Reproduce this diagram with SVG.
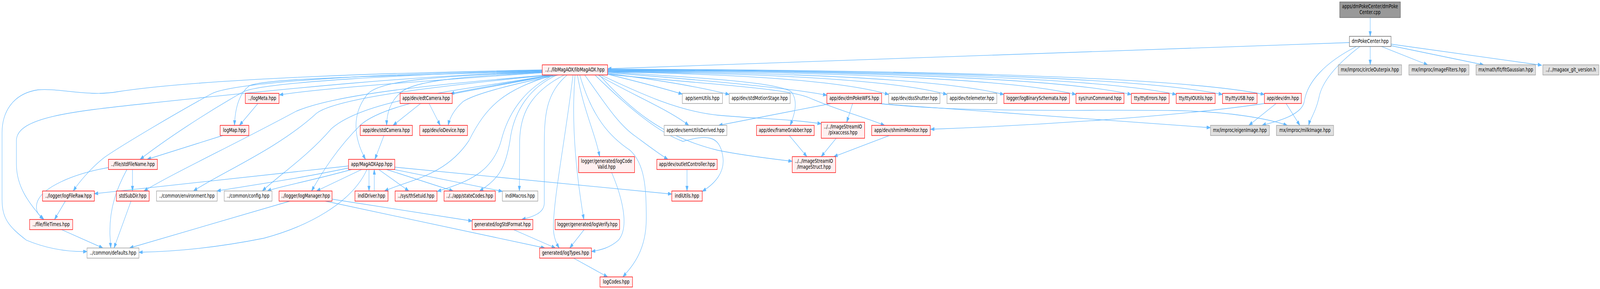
<svg xmlns="http://www.w3.org/2000/svg" width="5459" height="740" viewBox="0 0 5459 740" preserveAspectRatio="none">
<style>
svg:root{width:100vw;height:100vh}
.r rect{fill:#fff0f0;stroke:#ff0000;stroke-width:1.4}
.g rect{fill:#ffffff;stroke:#999999;stroke-width:1.4}
.w rect{fill:#ffffff;stroke:#666666;stroke-width:1.4}
.x rect{fill:#e0e0e0;stroke:#999999;stroke-width:1.4}
.s rect{fill:#999999;stroke:#666666;stroke-width:1.4}
text{font-family:"DejaVu Sans","Liberation Sans",sans-serif;font-size:13.33px;text-anchor:middle;fill:#000000}
#edges path{fill:none;stroke:#63b8ff;stroke-width:1.3;marker-end:url(#a)}
</style>
<defs>
<marker id="a" markerUnits="userSpaceOnUse" markerWidth="14" markerHeight="10" refX="13" refY="4.5" orient="auto">
<path d="M0,0 L13,4.5 L0,9 z" fill="#63b8ff" stroke="#63b8ff" stroke-width="1"/>
</marker>
</defs>
<rect width="5459" height="740" fill="#ffffff"/>
<g id="edges">
<path d="M4675,45 L4675,93"/>
<path d="M4604,109 L2073,176"/>
<path d="M4675,119 L4675,166"/>
<path d="M4713,119 L4871,166"/>
<path d="M4746,117 L5062,166"/>
<path d="M4746,113 L5260,167"/>
<path d="M4628,119 C4520,160 4460,210 4450,260 C4440,300 4330,315 4306,321"/>
<path d="M4640,119 C4560,165 4510,210 4500,250 C4490,285 4470,305 4465,321"/>
<path d="M1850,186 C1500,205 1100,225 953,243"/>
<path d="M1880,192 C1750,212 1620,225 1537,240"/>
<path d="M2073,190 C2180,210 2260,225 2328,241"/>
<path d="M2073,188 C2250,205 2400,225 2488,242"/>
<path d="M2073,186 C2400,205 2700,225 2821,244"/>
<path d="M2073,184 C2550,190 2880,208 3032,242"/>
<path d="M2073,183 C2650,188 3060,206 3231,242"/>
<path d="M2073,182 C2750,186 3230,205 3425,242"/>
<path d="M2073,181 C2870,184 3460,203 3671,242"/>
<path d="M2073,180 C2970,182 3630,202 3860,242"/>
<path d="M2073,179 C3040,181 3770,201 4013,242"/>
<path d="M2073,178 C3120,180 3910,200 4171,242"/>
<path d="M2073,177 C3190,179 4040,199 4314,242"/>
<path d="M1850,182 C1300,195 900,200 850,220 C815,240 802,280 800,321"/>
<path d="M1850,181 C1400,190 900,210 830,235 C700,290 560,360 478,408"/>
<path d="M1850,180 C1300,188 800,210 722,240 C600,290 420,370 358,402 C310,430 268,468 250,489"/>
<path d="M1850,183 C1400,195 1000,225 500,265 C250,285 56,300 56,360 L56,420 C56,480 100,520 147,562"/>
<path d="M1850,179 C1400,185 700,200 400,235 C300,248 200,225 130,230 C40,240 7,290 7,340 L7,510 C7,560 30,580 90,615 C170,640 240,645 297,644"/>
<path d="M1870,192 C1500,215 1150,240 1010,285 C800,370 600,440 491,489"/>
<path d="M1875,192 C1500,220 1150,250 1080,290 C950,380 760,440 660,489"/>
<path d="M1880,192 C1600,230 1250,250 1130,330 C1050,400 950,450 895,489"/>
<path d="M1890,192 C1600,235 1320,260 1230,320 C1150,380 1100,440 1063,489"/>
<path d="M1850,185 C1600,195 1420,205 1370,235 C1330,260 1320,290 1319,321"/>
<path d="M1905,192 C1750,215 1620,240 1580,260 C1550,280 1535,300 1529,321"/>
<path d="M1850,184 C1500,195 1300,205 1255,240 C1200,290 1205,350 1247,408"/>
<path d="M2040,192 C2150,240 2280,280 2350,321"/>
<path d="M2073,184 C2400,200 2650,210 2700,235 C2725,260 2710,295 2696,321"/>
<path d="M2050,192 C2200,245 2320,285 2450,295 C2600,305 2700,305 2802,317"/>
<path d="M2070,190 C2400,215 2680,225 2760,250 C2850,280 2950,300 3018,321"/>
<path d="M2045,192 C2150,280 2260,350 2450,385 C2550,400 2650,408 2703,413"/>
<path d="M1995,192 C2060,260 2110,320 2170,350 C2215,375 2250,395 2279,408"/>
<path d="M2030,192 C2150,280 2250,340 2330,362 C2410,345 2455,345 2466,400 C2475,440 2440,470 2396,490"/>
<path d="M1970,192 C1990,280 2030,340 2046,401"/>
<path d="M1978,192 C2020,300 2080,350 2150,385 C2200,420 2205,480 2205,560 C2205,640 2160,680 2125,709"/>
<path d="M1955,192 C1930,350 1890,500 1888,580 C1888,610 1900,625 1908,635"/>
<path d="M1962,192 C1950,300 1960,420 1992,562"/>
<path d="M1935,192 C1860,240 1857,300 1857,380 L1857,520 C1857,545 1820,555 1780,562"/>
<path d="M1925,192 C1800,240 1775,300 1773,360 L1772,489"/>
<path d="M1900,192 C1790,230 1750,300 1740,360 C1725,430 1700,460 1636,489"/>
<path d="M1890,192 C1780,230 1730,300 1710,360 C1680,440 1600,465 1492,490"/>
<path d="M1886,192 C1720,230 1660,270 1600,360 C1520,450 1400,460 1312,489"/>
<path d="M880,265 L817,321"/>
<path d="M760,347 L502,408"/>
<path d="M1435,265 L1341,321"/>
<path d="M1464,265 L1502,321"/>
<path d="M1310,347 L1279,408"/>
<path d="M370,429 C250,445 140,480 126,520 C118,545 140,555 150,562"/>
<path d="M452,434 L452,489"/>
<path d="M433,434 C400,480 373,530 375,600 L378,635"/>
<path d="M1189,425 L322,496"/>
<path d="M1190,430 C1000,460 850,475 740,489"/>
<path d="M1200,434 C1050,465 950,478 912,489"/>
<path d="M1234,434 L1080,489"/>
<path d="M1259,434 L1259,489"/>
<path d="M1277,489 L1277,434"/>
<path d="M1292,434 L1395,489"/>
<path d="M1319,434 L1546,489"/>
<path d="M1345,434 L1714,490"/>
<path d="M1347,428 L2292,497"/>
<path d="M1252,434 C1200,520 1050,580 900,610 C700,640 550,645 474,646"/>
<path d="M223,515 L186,562"/>
<path d="M210,588 L351,635"/>
<path d="M447,515 L389,635"/>
<path d="M989,515 L442,635"/>
<path d="M1133,510 L1611,566"/>
<path d="M1110,515 L1859,635"/>
<path d="M1752,588 L1895,635"/>
<path d="M1993,588 L1944,635"/>
<path d="M2087,442 C2120,500 2150,580 2110,615 C2080,635 2050,640 2018,644"/>
<path d="M1957,661 L2073,709"/>
<path d="M2344,434 L2344,489"/>
<path d="M2693,347 L2753,401"/>
<path d="M2853,354 L2802,401"/>
<path d="M3034,347 L2845,401"/>
<path d="M2909,265 L2889,313"/>
<path d="M2836,265 L2452,321"/>
<path d="M3008,266 C3500,290 3900,315 4130,327"/>
<path d="M3000,265 C3300,290 3700,280 4000,283 C4200,285 4330,305 4392,321"/>
<path d="M4354,265 L4261,321"/>
<path d="M4388,265 L4435,321"/>
<path d="M4314,265 C4000,300 3500,322 3175,331"/>
</g>
<g id="n_cpp" class="s"><rect x="4571" y="5" width="207" height="40"/><text x="4674.5" y="21">apps/dmPokeCenter/dmPoke</text><text x="4674.5" y="36">Center.cpp</text></g>
<g id="n_hpp" class="w"><rect x="4604" y="93" width="142" height="26"/><text x="4675" y="110.5">dmPokeCenter.hpp</text></g>
<g id="n_lib" class="r"><rect x="1850" y="166" width="223" height="26"/><text x="1961.5" y="183.5">../../libMagAOX/libMagAOX.hpp</text></g>
<g id="n_circle" class="x"><rect x="4566" y="166" width="216" height="26"/><text x="4674" y="183.5">mx/improc/circleOuterpix.hpp</text></g>
<g id="n_filters" class="x"><rect x="4807" y="166" width="205" height="26"/><text x="4909.5" y="183.5">mx/improc/imageFilters.hpp</text></g>
<g id="n_fitg" class="x"><rect x="5036" y="166" width="203" height="26"/><text x="5137.5" y="183.5">mx/math/fit/fitGaussian.hpp</text></g>
<g id="n_git" class="x"><rect x="5264" y="166" width="191" height="26"/><text x="5359.5" y="183.5">../../magaox_git_version.h</text></g>
<g id="n_logMeta" class="r"><rect x="837" y="239" width="115" height="26"/><text x="894.5" y="256.5">../logMeta.hpp</text></g>
<g id="n_edtCamera" class="r"><rect x="1365" y="239" width="178" height="26"/><text x="1454" y="256.5">app/dev/edtCamera.hpp</text></g>
<g id="n_semUtils" class="g"><rect x="2328" y="239" width="137" height="26"/><text x="2396.5" y="256.5">app/semUtils.hpp</text></g>
<g id="n_stdMotionStage" class="g"><rect x="2488" y="239" width="208" height="26"/><text x="2592" y="256.5">app/dev/stdMotionStage.hpp</text></g>
<g id="n_dmPokeWFS" class="r"><rect x="2821" y="239" width="187" height="26"/><text x="2914.5" y="256.5">app/dev/dmPokeWFS.hpp</text></g>
<g id="n_dssShutter" class="g"><rect x="3032" y="239" width="175" height="26"/><text x="3119.5" y="256.5">app/dev/dssShutter.hpp</text></g>
<g id="n_telemeter" class="g"><rect x="3231" y="239" width="170" height="26"/><text x="3316" y="256.5">app/dev/telemeter.hpp</text></g>
<g id="n_logBinarySchemata" class="r"><rect x="3425" y="239" width="224" height="26"/><text x="3537" y="256.5">logger/logBinarySchemata.hpp</text></g>
<g id="n_runCommand" class="r"><rect x="3671" y="239" width="164" height="26"/><text x="3753" y="256.5">sys/runCommand.hpp</text></g>
<g id="n_ttyErrors" class="r"><rect x="3860" y="239" width="129" height="26"/><text x="3924.5" y="256.5">tty/ttyErrors.hpp</text></g>
<g id="n_ttyIOUtils" class="r"><rect x="4013" y="239" width="133" height="26"/><text x="4079.5" y="256.5">tty/ttyIOUtils.hpp</text></g>
<g id="n_ttyUSB" class="r"><rect x="4171" y="239" width="118" height="26"/><text x="4230" y="256.5">tty/ttyUSB.hpp</text></g>
<g id="n_dm" class="r"><rect x="4314" y="239" width="126" height="26"/><text x="4377" y="256.5">app/dev/dm.hpp</text></g>
<g id="n_logMap" class="r"><rect x="751" y="321" width="98" height="26"/><text x="800" y="338.5">logMap.hpp</text></g>
<g id="n_stdCamera" class="r"><rect x="1229" y="321" width="178" height="26"/><text x="1318" y="338.5">app/dev/stdCamera.hpp</text></g>
<g id="n_ioDevice" class="r"><rect x="1432" y="321" width="163" height="26"/><text x="1513.5" y="338.5">app/dev/ioDevice.hpp</text></g>
<g id="n_semUtilsDerived" class="g"><rect x="2266" y="321" width="214" height="26"/><text x="2373" y="338.5">app/dev/semUtilsDerived.hpp</text></g>
<g id="n_frameGrabber" class="r"><rect x="2581" y="321" width="197" height="26"/><text x="2679.5" y="338.5">app/dev/frameGrabber.hpp</text></g>
<g id="n_pixaccess" class="r"><rect x="2802" y="313" width="148" height="41"/><text x="2876" y="329">../../ImageStreamIO</text><text x="2876" y="344">/pixaccess.hpp</text></g>
<g id="n_shmimMonitor" class="r"><rect x="2974" y="321" width="200" height="26"/><text x="3074" y="338.5">app/dev/shmimMonitor.hpp</text></g>
<g id="n_eigenImage" class="x"><rect x="4130" y="321" width="201" height="26"/><text x="4230.5" y="338.5">mx/improc/eigenImage.hpp</text></g>
<g id="n_milkImage" class="x"><rect x="4355" y="321" width="195" height="26"/><text x="4452.5" y="338.5">mx/improc/milkImage.hpp</text></g>
<g id="n_stdFileName" class="r"><rect x="370" y="408" width="167" height="26"/><text x="453.5" y="425.5">../file/stdFileName.hpp</text></g>
<g id="n_MagAOXApp" class="r"><rect x="1189" y="408" width="158" height="26"/><text x="1268" y="425.5">app/MagAOXApp.hpp</text></g>
<g id="n_logCodeValid" class="r"><rect x="1974" y="401" width="191" height="41"/><text x="2069.5" y="417">logger/generated/logCode</text><text x="2069.5" y="432">Valid.hpp</text></g>
<g id="n_outletController" class="r"><rect x="2241" y="408" width="206" height="26"/><text x="2344" y="425.5">app/dev/outletController.hpp</text></g>
<g id="n_ImageStruct" class="r"><rect x="2703" y="401" width="148" height="41"/><text x="2777" y="417">../../ImageStreamIO</text><text x="2777" y="432">/ImageStruct.hpp</text></g>
<g id="n_logFileRaw" class="r"><rect x="145" y="489" width="177" height="26"/><text x="233.5" y="506.5">../logger/logFileRaw.hpp</text></g>
<g id="n_stdSubDir" class="r"><rect x="397" y="489" width="112" height="26"/><text x="453" y="506.5">stdSubDir.hpp</text></g>
<g id="n_environment" class="g"><rect x="534" y="489" width="207" height="26"/><text x="637.5" y="506.5">../common/environment.hpp</text></g>
<g id="n_config" class="g"><rect x="765" y="489" width="163" height="26"/><text x="846.5" y="506.5">../common/config.hpp</text></g>
<g id="n_logManager" class="r"><rect x="952" y="489" width="181" height="26"/><text x="1042.5" y="506.5">../logger/logManager.hpp</text></g>
<g id="n_indiDriver" class="r"><rect x="1211" y="489" width="113" height="26"/><text x="1267.5" y="506.5">indiDriver.hpp</text></g>
<g id="n_thSetuid" class="r"><rect x="1348" y="489" width="143" height="26"/><text x="1419.5" y="506.5">../sys/thSetuid.hpp</text></g>
<g id="n_stateCodes" class="r"><rect x="1515" y="489" width="175" height="26"/><text x="1602.5" y="506.5">../../app/stateCodes.hpp</text></g>
<g id="n_indiMacros" class="g"><rect x="1714" y="489" width="121" height="26"/><text x="1774.5" y="506.5">indiMacros.hpp</text></g>
<g id="n_indiUtils" class="r"><rect x="2292" y="489" width="104" height="26"/><text x="2344" y="506.5">indiUtils.hpp</text></g>
<g id="n_fileTimes" class="r"><rect x="101" y="562" width="147" height="26"/><text x="174.5" y="579.5">../file/fileTimes.hpp</text></g>
<g id="n_logStdFormat" class="r"><rect x="1611" y="562" width="207" height="26"/><text x="1714.5" y="579.5">generated/logStdFormat.hpp</text></g>
<g id="n_logVerify" class="r"><rect x="1894" y="562" width="220" height="26"/><text x="2004" y="579.5">logger/generated/logVerify.hpp</text></g>
<g id="n_defaults" class="g"><rect x="297" y="635" width="177" height="26"/><text x="385.5" y="652.5">../common/defaults.hpp</text></g>
<g id="n_logTypes" class="r"><rect x="1841" y="635" width="177" height="26"/><text x="1929.5" y="652.5">generated/logTypes.hpp</text></g>
<g id="n_logCodes" class="r"><rect x="2047" y="709" width="111" height="26"/><text x="2102.5" y="726.5">logCodes.hpp</text></g>
</svg>
